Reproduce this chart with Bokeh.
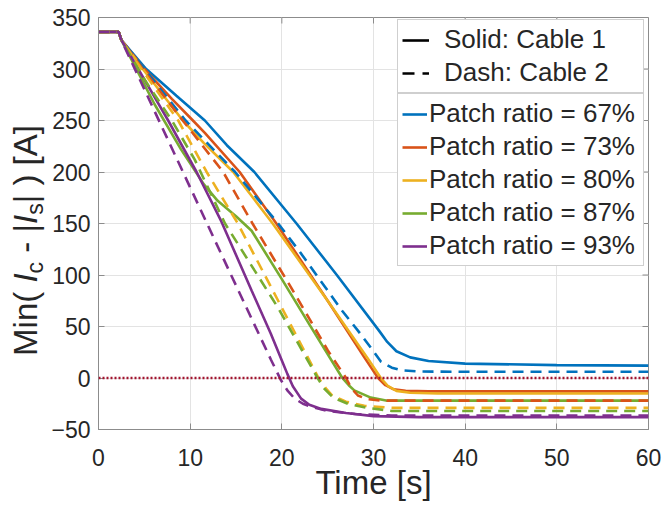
import math
from bokeh.plotting import figure
from bokeh.layouts import row
from bokeh.models import Span, Legend, LegendItem, FixedTicker
from bokeh.core.properties import value
from bokeh.embed import file_html
from bokeh.resources import INLINE

# ---------------- data ----------------
ratio_labels = ["Patch ratio = 67%", "Patch ratio = 73%", "Patch ratio = 80%",
                "Patch ratio = 87%", "Patch ratio = 93%"]
colors = ["#0072BD", "#D95319", "#EDB120", "#77AC30", "#7E2F8E"]
cable_labels = ["Solid: Cable 1", "Dash: Cable 2"]

x_ticks = [0, 10, 20, 30, 40, 50, 60]
y_ticks = [-50, 0, 50, 100, 150, 200, 250, 300, 350]

# Cable 1 (solid)
t_67_c1 = [0, 2.2, 2.5, 5.2, 8.5, 11.6, 14.0, 17.0, 21.6, 26.0, 30.6, 31.5, 32.5, 34.0, 36.0, 40.0, 50.0, 60.0]
v_67_c1 = [336, 336, 328, 300, 274, 250, 226, 200, 150, 100, 46, 35, 26, 20, 16.5, 14, 12.5, 12]
t_73_c1 = [0, 2.2, 2.5, 5.0, 8.0, 10.3, 11.6, 15.4, 19.4, 25.0, 29.0, 30.5, 31.3, 32.2, 33.5, 36.0, 60.0]
v_73_c1 = [336, 336, 328, 300, 271, 250, 238, 200, 150, 75, 20, 0, -7, -11, -12.5, -13, -13]
t_80_c1 = [0, 2.2, 2.5, 5.0, 9.2, 11.5, 14.7, 19.0, 25.0, 29.3, 30.8, 31.6, 32.5, 34.0, 37.0, 60.0]
v_80_c1 = [336, 336, 328, 298, 250, 228, 200, 150, 75, 20, 0, -8, -12.5, -14.3, -15, -15]
t_87_c1 = [0, 2.2, 2.5, 6.1, 9.0, 11.5, 13.0, 15.0, 16.7, 20.0, 23.0, 26.6, 27.3, 27.9, 29.7, 31.5, 60.0]
v_87_c1 = [336, 336, 328, 266, 222, 188, 172, 157, 143, 96, 52, 0, -7, -12, -19, -22, -22]
t_93_c1 = [0, 2.2, 2.5, 5.0, 7.6, 10.7, 13.4, 16.7, 18.8, 20.0, 20.6, 21.2, 22.1, 23.0, 24.3, 27.0, 30.0, 35.0, 60.0]
v_93_c1 = [336, 336, 328, 290, 250, 200, 152, 85, 43, 17, 4, -8, -20, -26, -30, -34, -37, -38, -38]

# Cable 2 (dashed)
t_67_c2 = [0, 2.2, 2.5, 5.0, 9.5, 14.9, 19.6, 22.0, 26.6, 28.3, 30.0, 30.8, 32.0, 33.0, 35.0, 40.0, 60.0]
v_67_c2 = [336, 336, 328, 300, 250, 200, 150, 122, 65, 46, 26, 16, 10, 7.5, 6.3, 6, 6]
t_73_c2 = [0, 2.2, 2.5, 5.0, 9.2, 13.6, 16.8, 21.0, 25.0, 27.0, 27.6, 28.3, 29.3, 31.0, 60.0]
v_73_c2 = [336, 336, 328, 298, 250, 200, 150, 88, 27, 0, -10, -17, -20.5, -22, -22]
t_80_c2 = [0, 2.2, 2.5, 5.0, 8.7, 11.8, 15.2, 19.6, 24.0, 24.8, 25.5, 27.0, 29.0, 32.0, 60.0]
v_80_c2 = [336, 336, 328, 296, 250, 200, 150, 75, 0, -10, -17, -23, -27, -29, -29]
t_87_c2 = [0, 2.2, 2.5, 5.0, 8.0, 10.5, 13.8, 19.6, 23.9, 24.6, 25.6, 27.2, 29.3, 32.0, 60.0]
v_87_c2 = [336, 336, 328, 290, 250, 212, 150, 68, 0, -10, -19, -25, -29, -32, -32]
t_93_c2 = [0, 2.2, 2.5, 8.9, 14.2, 18.8, 19.9, 20.6, 21.4, 22.3, 23.2, 25.0, 28.0, 32.0, 60.0]
v_93_c2 = [336, 336, 328, 206, 105, 18, -2, -12, -20, -25, -28, -32, -35, -36.5, -36.5]

cable1 = [(t_67_c1, v_67_c1), (t_73_c1, v_73_c1), (t_80_c1, v_80_c1), (t_87_c1, v_87_c1), (t_93_c1, v_93_c1)]
cable2 = [(t_67_c2, v_67_c2), (t_73_c2, v_73_c2), (t_80_c2, v_80_c2), (t_87_c2, v_87_c2), (t_93_c2, v_93_c2)]

# ---------------- layout constants ----------------
FONT = "Liberation Sans"
AX_COL = "#8c8c8c"
TXT_COL = "#262626"
TOTAL_W, TOTAL_H = 662, 506
LAB_W = 48                      # strip holding the rotated y-axis label
LEFT, RIGHT, TOP, BOTTOM = 97, 14, 17, 77
X0, X1 = 0, 60
Y0, Y1 = -50, 350
TICK_PX = 6

# ---------------- main figure ----------------
p = figure(width=TOTAL_W - LAB_W, height=TOTAL_H, x_range=(X0, X1), y_range=(Y0, Y1),
           output_backend="svg", toolbar_location=None,
           min_border_left=LEFT - LAB_W, min_border_right=RIGHT, min_border_top=TOP,
           min_border_bottom=BOTTOM,
           background_fill_color="white", border_fill_color="white")
p.outline_line_color = AX_COL
p.outline_line_width = 1

p.xaxis.ticker = FixedTicker(ticks=x_ticks)
p.yaxis.ticker = FixedTicker(ticks=y_ticks)
for ax in (p.xaxis[0], p.yaxis[0]):
    ax.major_label_text_font = FONT
    ax.major_label_text_font_size = "23px"
    ax.major_label_text_color = TXT_COL
    ax.major_tick_in = TICK_PX
    ax.major_tick_out = 0
    ax.minor_tick_line_color = None
    ax.axis_line_color = AX_COL
    ax.major_tick_line_color = AX_COL
p.xaxis.major_label_standoff = 19
p.yaxis.major_label_standoff = 8
p.xaxis.axis_label = "Time [s]"
p.xaxis.axis_label_text_font = FONT
p.xaxis.axis_label_text_font_size = "33px"
p.xaxis.axis_label_text_font_style = "normal"
p.xaxis.axis_label_text_color = TXT_COL
p.xaxis.axis_label_standoff = -5

p.xgrid.ticker = FixedTicker(ticks=x_ticks)
p.ygrid.ticker = FixedTicker(ticks=y_ticks)
p.xgrid.grid_line_color = "#e3e3e3"
p.ygrid.grid_line_color = "#e3e3e3"

# inward tick marks on the top and right edges of the box (from the tick lists)
frame_w = TOTAL_W - LEFT - RIGHT
frame_h = TOTAL_H - TOP - BOTTOM
dx_tick = TICK_PX / frame_w * (X1 - X0)
dy_tick = TICK_PX / frame_h * (Y1 - Y0)
p.segment(x0=[X1] * len(y_ticks), y0=y_ticks, x1=[X1 - dx_tick] * len(y_ticks), y1=y_ticks,
          line_color=AX_COL, line_width=1)
p.segment(x0=x_ticks, y0=[Y1] * len(x_ticks), x1=x_ticks, y1=[Y1 - dy_tick] * len(x_ticks),
          line_color=AX_COL, line_width=1)

# curves
solid_renderers = []
for (t, v), c in zip(cable1, colors):
    r = p.line(t, v, line_color=c, line_width=2.6)
    solid_renderers.append(r)
for (t, v), c in zip(cable2, colors):
    p.line(t, v, line_color=c, line_width=2.6, line_dash="11 7")

p.add_layout(Span(location=0, dimension="width", line_color="#A2142F",
                  line_width=2.5, line_dash="2 2"))

# legend proxies (drawn outside the visible range)
d1 = p.line([-5, -4], [-100, -100], line_color="black", line_width=2.6)
d2 = p.line([-5, -4], [-100, -100], line_color="black", line_width=2.6, line_dash="12 8")

leg1 = Legend(items=[LegendItem(label=cable_labels[0], renderers=[d1]),
                     LegendItem(label=cable_labels[1], renderers=[d2])],
              location=(299, 336), margin=0, padding=4, spacing=2,
              glyph_width=27, glyph_height=20, label_standoff=15, label_width=195,
              label_height=30, label_text_font=FONT, label_text_font_size="26px",
              label_text_color=TXT_COL, border_line_color="#a0a0a0",
              background_fill_color="white", background_fill_alpha=1.0)
leg2 = Legend(items=[LegendItem(label=l, renderers=[r]) for l, r in zip(ratio_labels, solid_renderers)],
              location=(299, 163), margin=0, padding=4, spacing=2,
              glyph_width=25, glyph_height=20, label_standoff=2, label_width=210,
              label_height=30, label_text_font=FONT, label_text_font_size="26px",
              label_text_color=TXT_COL, border_line_color="#a0a0a0",
              background_fill_color="white", background_fill_alpha=1.0)
p.add_layout(leg1)
p.add_layout(leg2)

# ---------------- y-axis label strip (same vertical frame as the plot) ----------------
lab = figure(width=LAB_W, height=TOTAL_H, x_range=(0, LAB_W), y_range=(Y0, Y1),
             output_backend="svg", toolbar_location=None,
             x_axis_type=None, y_axis_type=None,
             min_border_left=0, min_border_right=0, min_border_top=TOP, min_border_bottom=BOTTOM,
             background_fill_color="white", border_fill_color="white")
lab.outline_line_color = None
lab.grid.visible = False

F = 33
SUB = 23
W = {"M": 833, "i": 222, "n": 556, "(": 333, " ": 278, "I": 278, "c": 500, "-": 333,
     "|": 260, "s": 500, ")": 333, "[": 278, "A": 667, "]": 278}
# (text, style, subscript, spaces before, spaces after)
pieces = [("Min(", "normal", False, 0, 1), ("I", "italic", False, 0, 0), ("c", "normal", True, 0, 0),
          ("-", "normal", False, 1, 1), ("|", "normal", False, 0, 0), ("I", "italic", False, 0, 0),
          ("s", "normal", True, 0, 0), ("|", "normal", False, 0, 1), (")", "normal", False, 0, 1),
          ("[A]", "normal", False, 0, 0)]


def text_len(txt, size):
    return sum(W[ch] for ch in txt) / 1000.0 * size


def sy_to_data(sy):
    return Y1 - (sy - TOP) / frame_h * (Y1 - Y0)


space = W[" "] / 1000.0 * F
advances = []
for txt, style, sub, pre, post in pieces:
    advances.append(pre * space + text_len(txt, SUB if sub else F) + post * space)
total = sum(advances)
center_sy = 240.0
body_cx = 25.0
sub_cx = body_cx + 9.5

sy = center_sy + total / 2.0
for (txt, style, sub, pre, post), adv in zip(pieces, advances):
    sx = sub_cx if sub else body_cx
    lab.text(x=[sx], y=[sy_to_data(sy - pre * space)], text=[txt], angle=math.pi / 2,
             text_align="left", text_baseline="middle",
             text_font=value(FONT), text_font_size=value(f"{SUB if sub else F}px"),
             text_font_style=value(style), text_color=TXT_COL)
    sy -= adv

layout = row(lab, p, spacing=0)
open("out.html", "w").write(file_html(layout, INLINE))
